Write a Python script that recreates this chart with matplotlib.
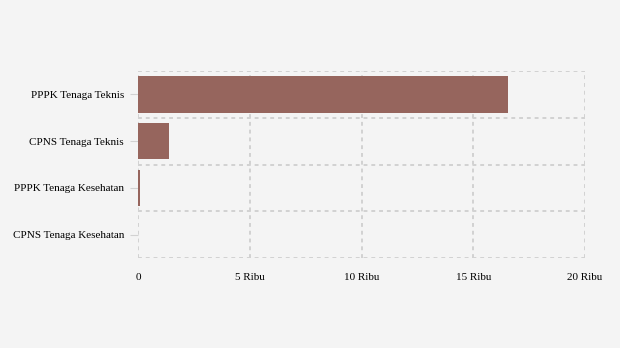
import matplotlib.pyplot as plt
import matplotlib.transforms as mtransforms
import numpy as np

categories = ["PPPK Tenaga Teknis", "CPNS Tenaga Teknis", "PPPK Tenaga Kesehatan", "CPNS Tenaga Kesehatan"]
values = [16550, 1390, 80, 15]
xticks = [0, 5000, 10000, 15000, 20000]
xlabels = ["0", "5 Ribu", "10 Ribu", "15 Ribu", "20 Ribu"]

plt.rcParams["font.family"] = ["Liberation Serif", "DejaVu Serif"]
bg = "#f4f4f4"
fig = plt.figure(figsize=(6.2, 3.48), dpi=100, facecolor=bg)
ax = fig.add_axes([138 / 620, 1 - 258 / 348, (585 - 138) / 620, (258 - 71) / 348])
ax.set_facecolor(bg)

y = np.arange(len(categories))
ax.barh(y, values, height=0.78, color="#96655d", zorder=3)

ax.set_xlim(0, 20000)
ax.set_ylim(len(categories) - 0.5, -0.5)
ax.set_xticks(xticks)
ax.set_xticklabels(xlabels, fontsize=8)
ax.set_yticks(y)
ax.set_yticklabels(categories, fontsize=8, va="center_baseline")
ax.set_yticks(np.arange(len(categories) + 1) - 0.5, minor=True)

# nudge y labels down a touch
shift = mtransforms.ScaledTranslation(0, -1.5 / 100, fig.dpi_scale_trans)
for lab in ax.get_yticklabels():
    lab.set_transform(lab.get_transform() + shift)

grid_style = dict(color="#d2d2d2", linestyle=(0, (2, 2)), linewidth=1.4, zorder=0)
ax.grid(axis="x", which="major", **grid_style)
ax.grid(axis="y", which="minor", **grid_style)
ax.tick_params(axis="x", length=0, pad=11)
ax.tick_params(axis="y", which="major", length=6, color="#d2d2d2", pad=4)
ax.tick_params(axis="y", which="minor", length=0)
for s in ax.spines.values():
    s.set_visible(False)

fig.savefig("out.png", dpi=100, facecolor=bg)
